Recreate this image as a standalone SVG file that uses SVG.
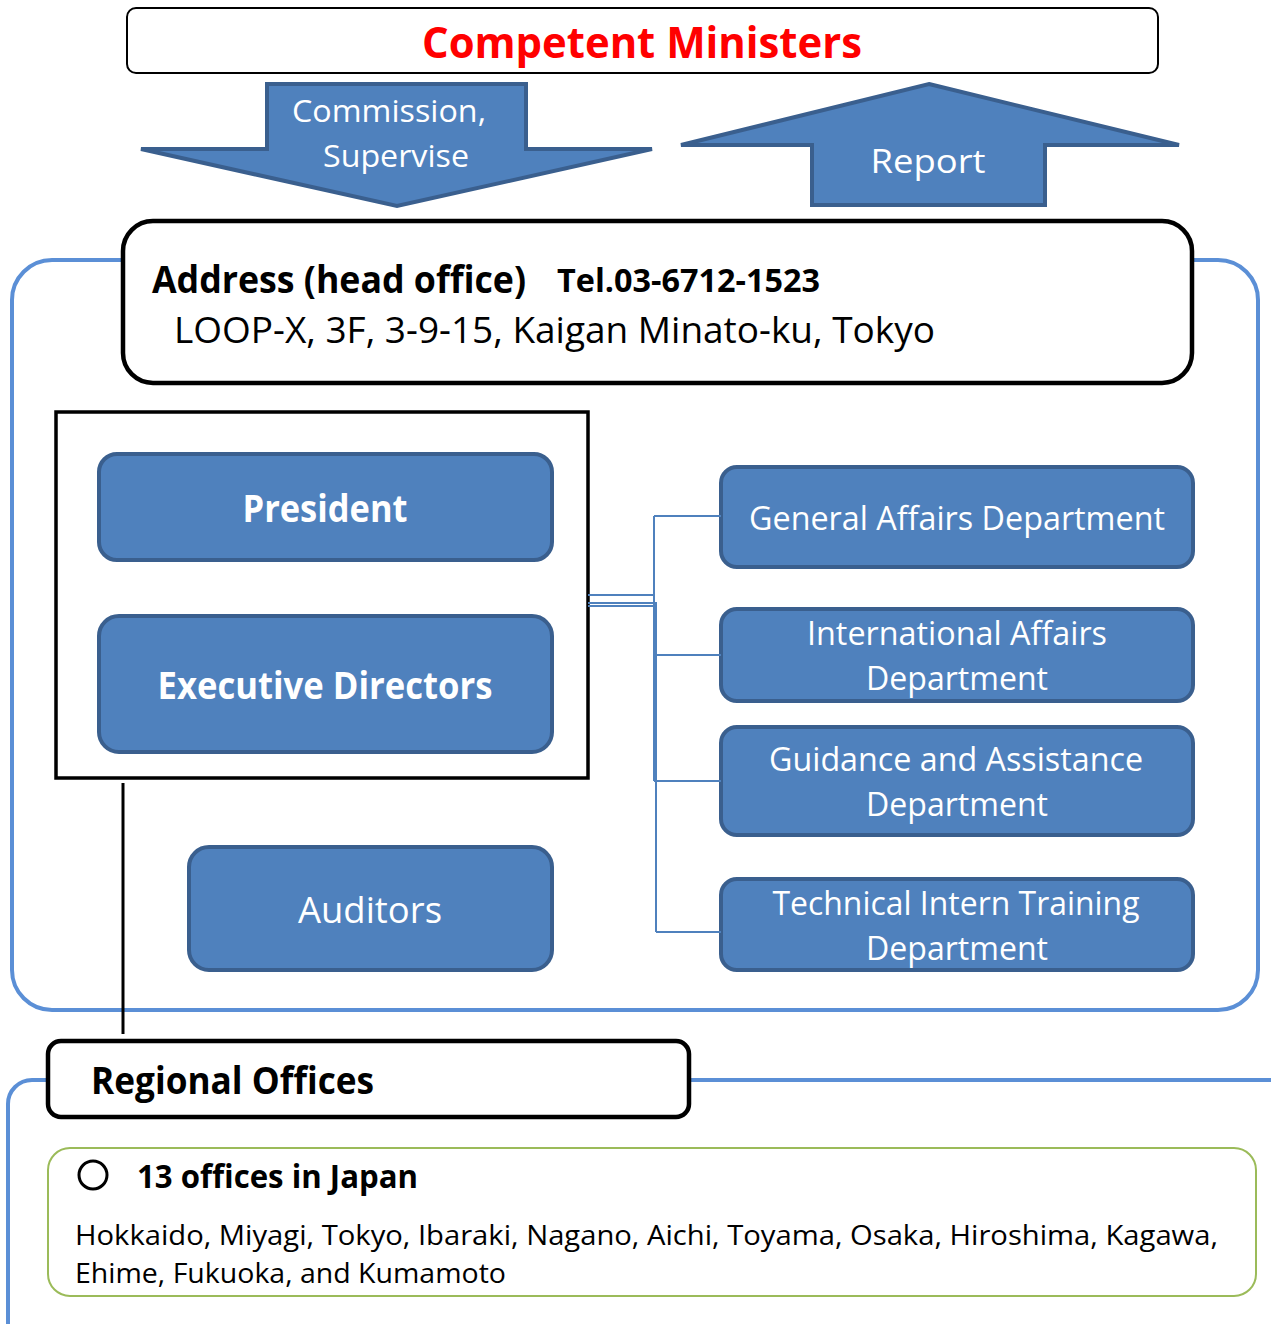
<svg xmlns="http://www.w3.org/2000/svg" width="1271" height="1324" viewBox="0 0 1271 1324">
<style>
  text { font-family: "Open Sans", "Noto Sans", "DejaVu Sans", sans-serif; }
  .node { fill: #4f81bd; stroke: #3a5f8e; stroke-width: 4; }
  .arrow { fill: #4f81bd; stroke: #3a5f8e; stroke-width: 4; stroke-linejoin: miter; }
  .wt { fill: #ffffff; text-anchor: middle; }
  .b { font-weight: bold; }
  .frame { fill: none; stroke: #5b8fd6; stroke-width: 4; }
  .conn { fill: none; stroke: #4f81bd; stroke-width: 2; }
  .blk { fill: #ffffff; stroke: #000000; }
</style>
<rect width="1271" height="1324" fill="#ffffff"/>

<!-- head office frame -->
<rect id="head-frame" class="frame" x="12" y="260" width="1246" height="750" rx="40"/>

<g id="ministers">
  <rect class="blk" x="127" y="8" width="1031" height="65" rx="9" stroke-width="2"/>
  <text x="642" y="58" font-size="43" class="b" fill="#ff0000" text-anchor="middle" textLength="440" lengthAdjust="spacingAndGlyphs">Competent Ministers</text>
</g>

<g id="commission-arrow">
  <polygon class="arrow" points="267,84 526,84 526,149 652,149 397,206 141,149 267,149"/>
  <text class="wt" x="389" y="122" font-size="31" textLength="194" lengthAdjust="spacingAndGlyphs">Commission,</text>
  <text class="wt" x="396" y="167" font-size="31" textLength="146" lengthAdjust="spacingAndGlyphs">Supervise</text>
</g>

<g id="report-arrow">
  <polygon class="arrow" points="929,84 1179,145 1045,145 1045,205 812,205 812,145 681,145"/>
  <text class="wt" x="928" y="173" font-size="32" textLength="115" lengthAdjust="spacingAndGlyphs">Report</text>
</g>

<g id="address">
  <rect class="blk" x="123" y="221" width="1069" height="162" rx="30" stroke-width="4.5"/>
  <text x="152" y="293" font-size="37" class="b" fill="#000" textLength="374" lengthAdjust="spacingAndGlyphs">Address (head office)</text>
  <text x="557" y="292" font-size="32" class="b" fill="#000" textLength="263" lengthAdjust="spacingAndGlyphs">Tel.03-6712-1523</text>
  <text x="174" y="343" font-size="37" fill="#000" textLength="761" lengthAdjust="spacingAndGlyphs">LOOP-X, 3F, 3-9-15, Kaigan Minato-ku, Tokyo</text>
</g>

<g id="executive-group">
  <rect x="56" y="412" width="532" height="366" fill="#ffffff" stroke="#000" stroke-width="3.5"/>
</g>

<g id="president">
  <rect class="node" x="99" y="454" width="453" height="106" rx="18"/>
  <text class="wt b" x="325" y="522" font-size="37" textLength="165" lengthAdjust="spacingAndGlyphs">President</text>
</g>

<g id="executive-directors">
  <rect class="node" x="99" y="616" width="453" height="136" rx="20"/>
  <text class="wt b" x="325" y="699" font-size="37" textLength="335" lengthAdjust="spacingAndGlyphs">Executive Directors</text>
</g>

<g id="auditors">
  <rect class="node" x="189" y="847" width="363" height="123" rx="20"/>
  <text class="wt" x="370" y="923" font-size="36" textLength="144" lengthAdjust="spacingAndGlyphs">Auditors</text>
</g>

<g id="general-affairs">
  <rect class="node" x="721" y="467" width="472" height="100" rx="16"/>
  <text class="wt" x="957" y="530" font-size="32" textLength="416" lengthAdjust="spacingAndGlyphs">General Affairs Department</text>
</g>

<g id="international-affairs">
  <rect class="node" x="721" y="609" width="472" height="92" rx="16"/>
  <text class="wt" x="957" y="645" font-size="32" textLength="300" lengthAdjust="spacingAndGlyphs">International Affairs</text>
  <text class="wt" x="957" y="690" font-size="32" textLength="182" lengthAdjust="spacingAndGlyphs">Department</text>
</g>

<g id="guidance-assistance">
  <rect class="node" x="721" y="727" width="472" height="108" rx="16"/>
  <text class="wt" x="956" y="771" font-size="32" textLength="374" lengthAdjust="spacingAndGlyphs">Guidance and Assistance</text>
  <text class="wt" x="957" y="816" font-size="32" textLength="182" lengthAdjust="spacingAndGlyphs">Department</text>
</g>

<g id="technical-intern">
  <rect class="node" x="721" y="879" width="472" height="91" rx="16"/>
  <text class="wt" x="956" y="915" font-size="32" textLength="367" lengthAdjust="spacingAndGlyphs">Technical Intern Training</text>
  <text class="wt" x="957" y="960" font-size="32" textLength="182" lengthAdjust="spacingAndGlyphs">Department</text>
</g>

<g id="connectors">
  <path class="conn" d="M588,595 H654 M654,516 V781 M654,516 H721 M654,781 H721"/>
  <path class="conn" d="M588,603 H656 M588,606 H656 M656,602 V932 M656,655 H721 M656,932 H721" stroke-width="1.6"/>
  <line x1="123" y1="783" x2="123" y2="1034" stroke="#000" stroke-width="3"/>
</g>

<!-- regional frame -->
<path id="regional-frame" class="frame" d="M48,1080 H32 A24,24 0 0 0 8,1104 V1330 M689,1080 H1275"/>

<g id="regional-offices">
  <rect class="blk" x="48" y="1041" width="641" height="76" rx="13" stroke-width="4.5"/>
  <text x="91" y="1094" font-size="37" class="b" fill="#000" textLength="283" lengthAdjust="spacingAndGlyphs">Regional Offices</text>
</g>

<g id="offices-list">
  <rect x="48" y="1148" width="1208" height="148" rx="22" fill="#ffffff" stroke="#9bbb59" stroke-width="2"/>
  <circle cx="93" cy="1175" r="14" fill="none" stroke="#000" stroke-width="3"/>
  <text x="137" y="1188" font-size="32" class="b" fill="#000" textLength="281" lengthAdjust="spacingAndGlyphs">13 offices in Japan</text>
  <text x="75" y="1245" font-size="27" fill="#000" textLength="1143" lengthAdjust="spacingAndGlyphs">Hokkaido, Miyagi, Tokyo, Ibaraki, Nagano, Aichi, Toyama, Osaka, Hiroshima, Kagawa,</text>
  <text x="75" y="1283" font-size="27" fill="#000" textLength="431" lengthAdjust="spacingAndGlyphs">Ehime, Fukuoka, and Kumamoto</text>
</g>
</svg>
